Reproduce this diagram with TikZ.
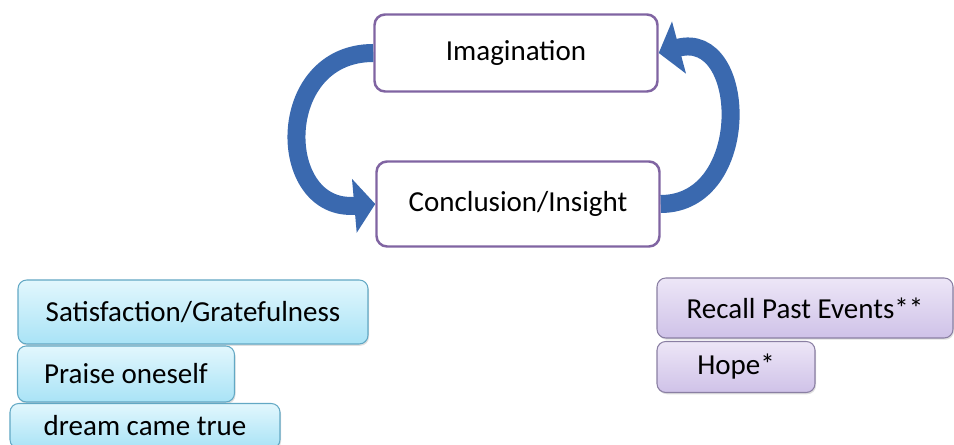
\documentclass[tikz,border=0pt]{standalone}
\usepackage{fontspec}
\setmainfont{Carlito}
\usepackage{xcolor}
\definecolor{BoxPurple}{HTML}{8064A2}
\definecolor{ArrowBlue}{HTML}{3A69AF}
\definecolor{AquaEdge}{HTML}{62A8C4}
\definecolor{AquaTop}{HTML}{E2F7FD}
\definecolor{AquaBot}{HTML}{A9E3F6}
\definecolor{LilacEdge}{HTML}{8A7FA3}
\definecolor{LilacTop}{HTML}{EDE6F7}
\definecolor{LilacBot}{HTML}{CFC2E8}
\usepackage{tikz}
\usetikzlibrary{arrows.meta, positioning, shadows}

\begin{document}
\begin{tikzpicture}[
        cyclebox/.style={rectangle, rounded corners=6pt, draw=BoxPurple,
                         line width=1.4pt, fill=white, minimum width=5.66cm,
                         font=\fontsize{16.5}{20}\selectfont},
        aquabox/.style={rectangle, rounded corners=5pt, draw=AquaEdge,
                        line width=0.6pt, top color=AquaTop, bottom color=AquaBot,
                        drop shadow={opacity=0.25, shadow xshift=0.6pt, shadow yshift=-1pt},
                        font=\fontsize{16.5}{20}\selectfont},
        lilacbox/.style={rectangle, rounded corners=5pt, draw=LilacEdge,
                         line width=0.6pt, top color=LilacTop, bottom color=LilacBot,
                         drop shadow={opacity=0.25, shadow xshift=0.6pt, shadow yshift=-1pt},
                         font=\fontsize{16.5}{20}\selectfont},
        bigarrow/.style={ArrowBlue, line width=0.36cm,
                         -{Triangle[width=1.06cm, length=0.42cm]}}
      ]
        \clip (0,0) rectangle (19.08,8.9);
        % Cycle
        \node[cyclebox, minimum height=1.54cm] (imag) at (10.32, 7.84) {Imagination};
        \node[cyclebox, minimum height=1.70cm] (insight) at (10.36, 4.82) {Conclusion/Insight};
        \draw[bigarrow] (imag.west) to[out=180, in=185, looseness=1.7] (insight.west);
        \draw[bigarrow] (insight.east) to[out=0, in=15, looseness=1.57] (imag.east);
        % Left group
        \node[aquabox, minimum width=7.0cm, minimum height=1.28cm] (sat) at (3.86, 2.66) {Satisfaction/Gratefulness};
        \node[aquabox, minimum width=4.34cm, minimum height=1.12cm] (praise) at (2.52, 1.42) {Praise oneself};
        \node[aquabox, minimum width=5.4cm, minimum height=0.9cm] (dream) at (2.9, 0.38) {dream came true};
        % Right group
        \node[lilacbox, minimum width=5.92cm, minimum height=1.20cm] (recall) at (16.10, 2.74) {Recall Past Events**};
        \node[lilacbox, minimum width=3.16cm, minimum height=1.02cm] (hope) at (14.72, 1.56) {Hope*};
      \end{tikzpicture}
\end{document}
